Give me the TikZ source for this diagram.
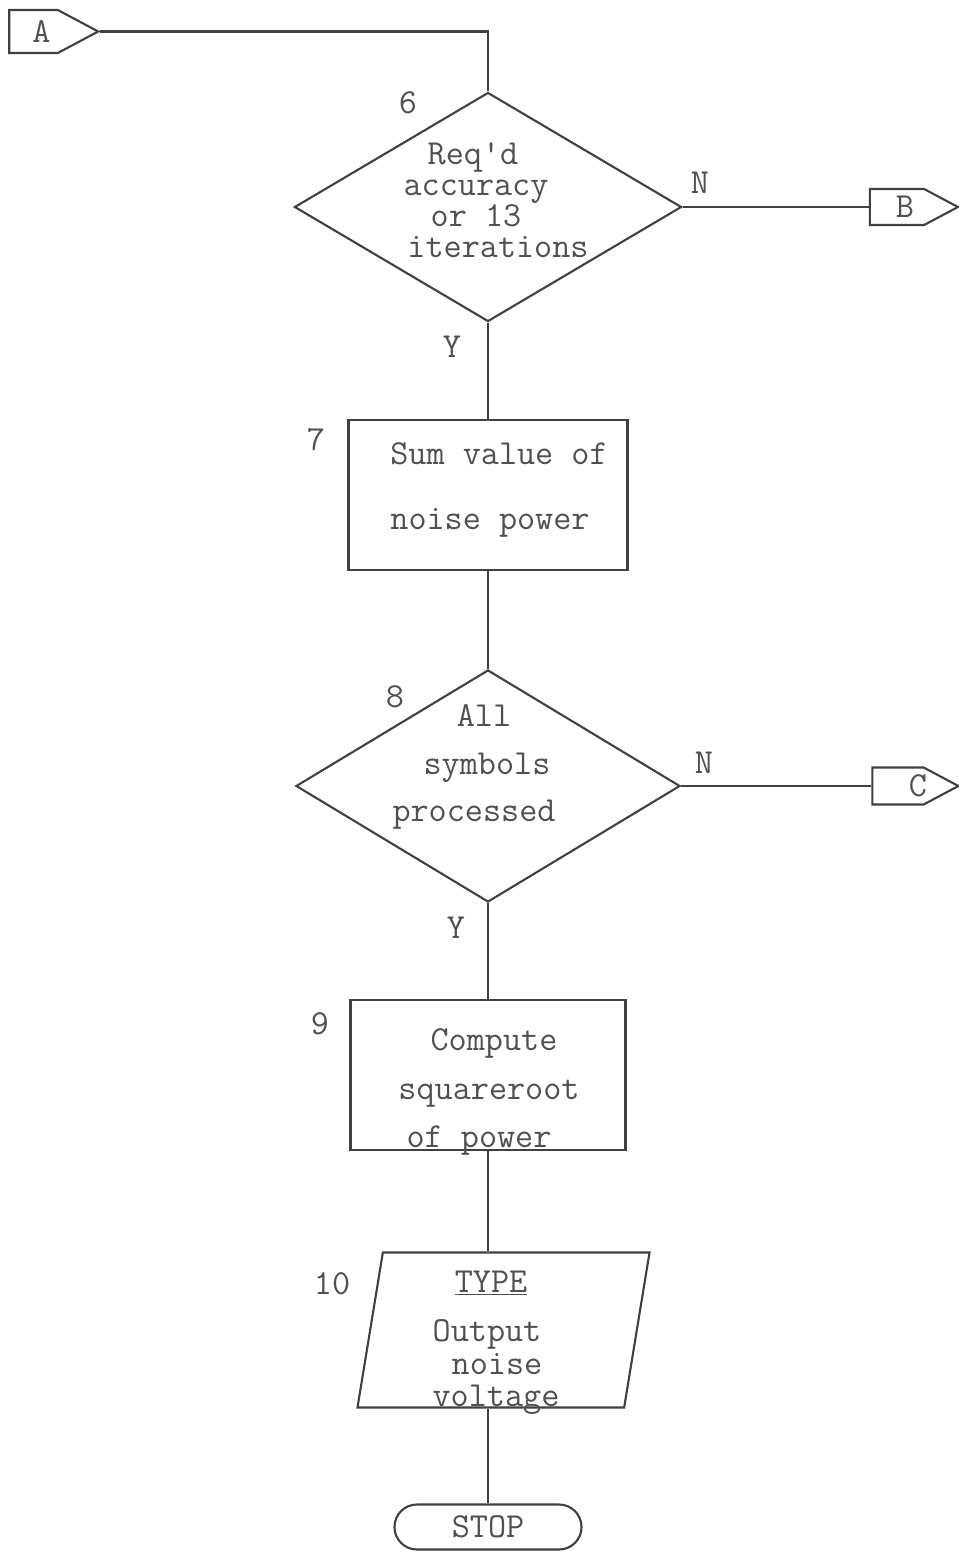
\documentclass[tikz,border=0pt]{standalone}
\usepackage{fontspec}
\usetikzlibrary{shapes.geometric,shapes.symbols,shapes.misc}
\definecolor{ink}{HTML}{404040}
\definecolor{typed}{HTML}{505050}
\lineskiplimit=-100pt

\begin{document}
\begin{tikzpicture}[x=0.025cm, y=-0.025cm, line width=1.5pt, color=ink,
  every node/.style={text=typed, font=\ttfamily\fontsize{25}{22}\selectfont},
  lines/.style={align=center, font=\ttfamily\fontsize{25}{#1}\selectfont},
  decision/.style={diamond, draw, inner sep=0pt},
  process/.style={rectangle, draw, inner sep=0pt, minimum height=3.75cm},
  offpage/.style={signal, signal to=east, signal pointer angle=56, draw, inner sep=1pt}]
  \useasboundingbox (0,0) rectangle (959,1552);

  % off-page connectors
  \node[offpage, minimum width=2.225cm, minimum height=1.075cm,
    label={[xshift=0.2cm]center:A}] (A) at (33.5,31.5) {};
  \node[offpage, minimum width=2.2cm, minimum height=0.9cm,
    label={[xshift=0.2cm]center:B}] (B) at (897,207) {};
  \node[offpage, minimum width=2.15cm, minimum height=0.925cm,
    label={[xshift=0.5cm]center:C}] (C) at (898,786) {};

  % blocks
  \node[decision, minimum width=9.675cm, minimum height=5.725cm] (d6) at (488,207) {};
  \node[lines=22] (d6t) at (476,200)
    {Req\textquotesingle d\hspace*{0.15cm}\\accuracy\hspace*{0.4cm}\\or 13\hspace*{1cm}\\\hspace*{1.1cm}iterations};
  \node[process, minimum width=6.975cm] (b7) at (488,495) {};
  \node[lines=46] (b7t) at (495,490) {\hspace*{0.2cm}Sum value of\\noise power\hspace*{0.25cm}};
  \node[decision, minimum width=9.6cm, minimum height=5.8cm] (d8) at (488,786) {};
  \node[lines=34] (d8t) at (484,767) {All\\\hspace*{0.15cm}symbols\\processed\hspace*{0.5cm}};
  \node[process, minimum width=6.875cm] (b9) at (488,1075) {};
  \node[lines=34.5] (b9t) at (489,1092) {\hspace*{0.25cm}Compute\\squareroot\\of power\hspace*{0.5cm}};
  \node[trapezium, trapezium left angle=84, trapezium right angle=96, trapezium stretches=true,
    draw, inner sep=2pt, minimum width=7.3cm, minimum height=3.875cm] (io10) at (503.5,1330) {};
  \node[lines=23.3] (io10t) at (487,1343)
    {\hspace*{0.2cm}\underline{TYPE}\\[11.5pt]Output\hspace*{0.6cm}\\\hspace*{0.5cm}noise\\\hspace*{0.45cm}voltage};
  \node[rounded rectangle, draw, inner sep=0pt, minimum width=4.675cm,
    minimum height=1.125cm] (stop) at (488,1527) {STOP};

  % step numbers and branch labels
  \node (n6) at (408,103) {6};
  \node (n7) at (316,440) {7};
  \node (n8) at (395,697) {8};
  \node (n9) at (320,1024) {9};
  \node (n10) at (332,1284) {10};
  \node (no6) at (700,183) {N};
  \node (yes6) at (452,347) {Y};
  \node (no8) at (704,763) {N};
  \node (yes8) at (456,928) {Y};

  \draw (A.east) -| (d6.north);
  \draw (d6.east) -- (B.west);
  \draw (d6.south) -- (b7.north);
  \draw (b7.south) -- (d8.north);
  \draw (d8.east) -- (C.west);
  \draw (d8.south) -- (b9.north);
  \draw (b9.south) -- (b9.south |- io10.north);
  \draw (stop.north |- io10.south) -- (stop.north);
\end{tikzpicture}
\end{document}
